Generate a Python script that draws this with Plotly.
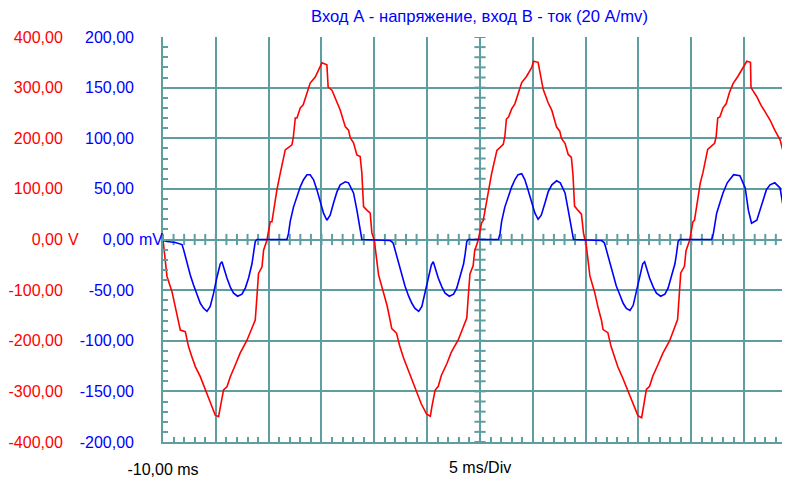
import numpy as np
import plotly.graph_objects as go

# ---------------- data ----------------
# Channel A: voltage (V), time in ms
t_red = [-10.0, -9.62, -9.15, -8.84, -8.52, -8.36, -7.89, -7.58, -7.26, -6.94, -6.47, -6.0, -5.53, -5.05,
         -4.74, -4.58, -4.27, -3.95, -3.63, -3.16, -2.69, -2.05, -1.43, -1.27, -1.11, -0.96, -0.63, -0.48,
         -0.16, 0.15, 0.31, 0.78, 1.10, 1.57, 2.20, 2.33, 2.52, 2.68, 2.99, 3.27, 3.62, 3.93, 4.41, 4.88,
         5.04, 5.51, 5.63, 5.99, 6.46, 6.77, 7.25, 7.56, 7.72, 8.03, 8.35, 8.66, 8.82, 8.98, 9.30, 9.61,
         9.77, 9.92,
         10.0, 10.4, 10.85, 11.2, 11.5, 11.65, 12.1, 12.4, 12.75, 13.05, 13.5, 14.0, 14.45, 14.95, 15.3,
         15.45, 15.75, 16.05, 16.35, 16.85, 17.3, 17.95, 18.6, 18.75, 18.9, 19.05, 19.35, 19.5, 19.85,
         20.15, 20.3, 20.8, 21.1, 21.6, 22.2, 22.35, 22.5, 22.7, 23.0, 23.3, 23.6, 23.95, 24.4, 24.9,
         25.06, 25.5, 25.95, 26.0, 26.45, 26.8, 27.25, 27.55, 27.7, 28.05, 28.35, 28.65, 28.8, 28.95,
         29.3, 29.6, 29.8, 29.95,
         30.0, 30.4, 30.85, 31.15, 31.5, 31.65, 32.1, 32.4, 32.75, 33.05, 33.5, 34.0, 34.5, 34.95, 35.3,
         35.45, 35.75, 36.05, 36.35, 36.85, 37.3, 37.95, 38.55, 38.7, 38.85, 39.0, 39.35, 39.5, 39.85,
         40.15, 40.3, 40.8, 40.85, 41.1, 41.55, 42.2, 42.35, 42.5, 42.7, 43.0, 43.3, 43.6, 43.95, 44.4,
         44.9, 45.25, 45.6, 45.65, 46.2, 46.6, 46.99, 47.45, 47.9, 48.4, 48.7, 48.97, 49.06, 49.34]
v_red = [0, -73, -103, -133, -159, -179, -182, -212, -232, -251, -271, -297, -323, -347,
         -350, -333, -297, -291, -271, -248, -224, -199, -166, -159, -113, -67, -54, -21,
         -1, 35, 35, 98, 131, 177, 187, 201, 240, 240, 260, 266, 289, 309, 321, 341,
         349, 345, 301, 295, 272, 256, 223, 216, 201, 191, 167, 164, 131, 65, 58, 52,
         13, -1,
         -2, -70, -105, -130, -160, -176, -185, -210, -233, -250, -272, -300, -325, -345, -349,
         -330, -298, -290, -268, -246, -222, -198, -165, -155, -110, -68, -52, -22, 0,
         33, 37, 100, 130, 176, 188, 203, 238, 242, 258, 268, 287, 310, 322, 340,
         352, 350, 300, 296, 270, 255, 222, 214, 200, 190, 168, 162, 128, 66,
         57, 50, 12, -2,
         -1, -72, -104, -132, -160, -178, -184, -211, -231, -252, -273, -298, -326, -348, -352,
         -334, -296, -290, -270, -247, -225, -200, -167, -158, -112, -66, -53, -22, -1,
         35, 38, 100, 112, 132, 178, 190, 203, 240, 242, 260, 268, 290, 308, 322,
         340, 352, 350, 300, 282, 265, 252, 236, 216, 197, 173, 157, 68, 54]

# Channel B: current probe output (mV), time in ms
t_blue = [-10.0, -9.62, -8.84, -8.36, -8.20, -8.05, -7.73, -7.42, -7.11, -6.78, -6.47, -6.16, -5.84, -5.53,
          -5.21, -4.89, -4.58, -4.42, -4.27, -3.95, -3.63, -3.32, -2.94, -2.53, -2.21, -1.90, -1.58, -1.43,
          -1.27, -1.11, 1.73, 1.88, 2.04, 2.35, 2.68, 2.99, 3.30, 3.62, 3.93, 4.25, 4.57, 4.88, 5.19, 5.51,
          5.82, 6.14, 6.46, 6.77, 7.25, 7.56, 8.03, 8.35, 8.66, 8.82,
          11.5, 11.75, 11.85, 12.0, 12.3, 12.6, 12.9, 13.25, 13.55, 13.85, 14.2, 14.5, 14.8, 15.1, 15.4,
          15.58, 15.75, 16.05, 16.4, 16.7, 17.1, 17.5, 17.8, 18.1, 18.45, 18.6, 18.75, 18.9, 21.75, 21.9,
          22.05, 22.35, 22.7, 23.0, 23.3, 23.6, 23.95, 24.25, 24.55, 24.9, 25.2, 25.5, 25.8, 26.15, 26.45,
          26.8, 27.25, 27.6, 28.05, 28.35, 28.65, 28.85,
          31.5, 31.75, 31.85, 32.0, 32.3, 32.6, 32.9, 33.25, 33.55, 33.85, 34.2, 34.5, 34.8, 35.1, 35.4,
          35.58, 35.75, 36.05, 36.4, 36.7, 37.1, 37.5, 37.8, 38.1, 38.45, 38.6, 38.75, 38.9, 41.93, 42.09,
          42.4, 42.7, 43.0, 43.4, 44.0, 44.6, 45.1, 45.4, 45.7, 46.2, 46.7, 47.1, 47.45, 47.9, 48.4, 48.7,
          48.87, 49.34]
i_blue = [-1, -2, -3, -4, -5, -10, -23, -35, -45, -55, -63, -68, -71, -66,
          -53, -37, -24, -22, -28, -38, -47, -53, -56, -54, -48, -38, -24, -14,
          -2, 0, 0, 6, 18, 32, 42, 52, 59, 64, 64, 59, 49, 36, 26, 19,
          24, 36, 47, 54, 57, 56, 46, 29, 9, 0,
          -1, -3, -6, -12, -24, -36, -46, -56, -63, -68, -71, -66, -53, -37, -25,
          -22, -28, -38, -47, -53, -56, -54, -48, -38, -24, -14, -2, 0, 0, 6,
          18, 32, 43, 52, 59, 64, 65, 59, 49, 36, 26, 20, 24, 36, 47,
          54, 58, 56, 46, 29, 9, 0,
          -1, -3, -6, -12, -24, -36, -46, -55, -63, -68, -70, -65, -52, -37, -24,
          -22, -28, -38, -47, -53, -56, -54, -48, -38, -24, -14, -2, 0, 0, 6,
          26, 36, 46, 56, 64, 63, 51, 29, 16, 19, 36, 49, 54, 56, 51, 32, 9,
          0, 0]

volt_ticks = [400, 300, 200, 100, 0, -100, -200, -300, -400]
volt_labels = ["400,00", "300,00", "200,00", "100,00", "0,00", "-100,00", "-200,00", "-300,00", "-400,00"]
curr_ticks = [200, 150, 100, 50, 0, -50, -100, -150, -200]
curr_labels = ["200,00", "150,00", "100,00", "50,00", "0,00", "-50,00", "-100,00", "-150,00", "-200,00"]
time_ticks = [-10, -5, 0, 5, 10, 15, 20, 25, 30, 35, 40, 45]
time_labels = ["-10,00 ms"] + [""] * 11

title_text = "Вход А - напряжение, вход В - ток (20 А/mv)"
div_text = "5 ms/Div"

# ---------------- styling ----------------
GRID = "#5f9ea0"
FONT = "Liberation Sans"
FS = 16
X_RANGE = [-10, 49.34]
# the page body has an 8px margin, so the figure is 8px smaller and margins are 8px less
W, H = 782, 470
ML, MT, MB = 155, 29, 36
PW = W - ML
PH = H - MT - MB

fig = go.Figure()

# cross ticks on the centre lines (scope graticule)
cx = np.arange(-10, 50, 1)
fig.add_trace(go.Scatter(x=cx, y=np.zeros(len(cx)), mode="markers", yaxis="y",
                         marker=dict(symbol="line-ns-open", size=8, color=GRID,
                                     line=dict(color=GRID, width=2)),
                         hoverinfo="skip", showlegend=False))
cy = np.arange(-400, 401, 20)
fig.add_trace(go.Scatter(x=np.full(len(cy), 20.0), y=cy, mode="markers", yaxis="y",
                         marker=dict(symbol="line-ew-open", size=8, color=GRID,
                                     line=dict(color=GRID, width=2)),
                         hoverinfo="skip", showlegend=False))

fig.add_trace(go.Scatter(x=t_red, y=v_red, mode="lines", yaxis="y", name="A",
                         line=dict(color="#ff0000", width=1.6), showlegend=False))
fig.add_trace(go.Scatter(x=t_blue, y=i_blue, mode="lines", yaxis="y2", name="B",
                         line=dict(color="#0000ff", width=1.6), showlegend=False))
# trigger marker at t = 0
fig.add_trace(go.Scatter(x=[0], y=[-407], mode="markers", yaxis="y", cliponaxis=False,
                         marker=dict(symbol="triangle-up", size=5, color="black"),
                         hoverinfo="skip", showlegend=False))

fig.update_layout(
    template="none",
    width=W, height=H,
    margin=dict(l=ML, r=0, t=MT, b=MB, autoexpand=False),
    paper_bgcolor="white", plot_bgcolor="white",
    font=dict(family=FONT, size=FS, color="black"),
    showlegend=False,
    xaxis=dict(range=X_RANGE, tickmode="array", tickvals=time_ticks, ticktext=time_labels,
               showgrid=True, gridcolor=GRID, gridwidth=2, zeroline=False,
               showline=True, linecolor=GRID, linewidth=2,
               ticks="inside", ticklen=5, tickwidth=2, tickcolor=GRID,
               minor=dict(ticks="inside", dtick=1, tick0=-10, ticklen=5, tickwidth=2,
                          tickcolor=GRID, showgrid=False),
               tickfont=dict(family=FONT, size=FS, color="black"),
               ticklabelstandoff=12, automargin=False, fixedrange=True),
    xaxis2=dict(range=X_RANGE, overlaying="x", side="top", anchor="y",
                showgrid=False, zeroline=False, showline=True, linecolor=GRID, linewidth=2,
                ticks="inside", ticklen=5, tickwidth=2, tickcolor=GRID, dtick=5, tick0=-10,
                minor=dict(ticks="inside", dtick=1, tick0=-10, ticklen=5, tickwidth=2,
                           tickcolor=GRID, showgrid=False),
                showticklabels=False, automargin=False),
    yaxis=dict(range=[-400, 400], tickmode="array", tickvals=volt_ticks, ticktext=volt_labels,
               showgrid=True, gridcolor=GRID, gridwidth=2, zeroline=False,
               showline=True, linecolor=GRID, linewidth=2,
               ticks="inside", ticklen=5, tickwidth=2, tickcolor=GRID,
               minor=dict(ticks="inside", dtick=20, tick0=0, ticklen=5, tickwidth=2,
                          tickcolor=GRID, showgrid=False),
               tickfont=dict(family=FONT, size=FS, color="#ff0000"),
               ticklabelstandoff=95, automargin=False, fixedrange=True),
    yaxis2=dict(range=[-200, 200], overlaying="y", side="left", anchor="x",
                tickmode="array", tickvals=curr_ticks, ticktext=curr_labels,
                showgrid=False, zeroline=False, showline=False, ticks="",
                tickfont=dict(family=FONT, size=FS, color="#0000ff"),
                ticklabelstandoff=28, automargin=False, fixedrange=True),
    annotations=[
        dict(text=title_text, xref="x", x=20, yref="paper", y=1 + 21 / PH, xanchor="center",
             yanchor="middle", showarrow=False, font=dict(family=FONT, size=16.6, color="#0000ff")),
        dict(text=div_text, xref="x", x=20, yref="paper", y=-25 / PH, xanchor="center",
             yanchor="middle", showarrow=False, font=dict(family=FONT, size=FS, color="black")),
        dict(text="V", xref="paper", x=(66 - 163) / PW, yref="y", y=0, xanchor="left",
             yanchor="middle", showarrow=False, font=dict(family=FONT, size=FS, color="#ff0000")),
        dict(text="mV", xref="paper", x=(137 - 163) / PW, yref="y", y=0, xanchor="left",
             yanchor="middle", showarrow=False, font=dict(family=FONT, size=FS, color="#0000ff")),
    ],
)

fig.write_html("out.html")
